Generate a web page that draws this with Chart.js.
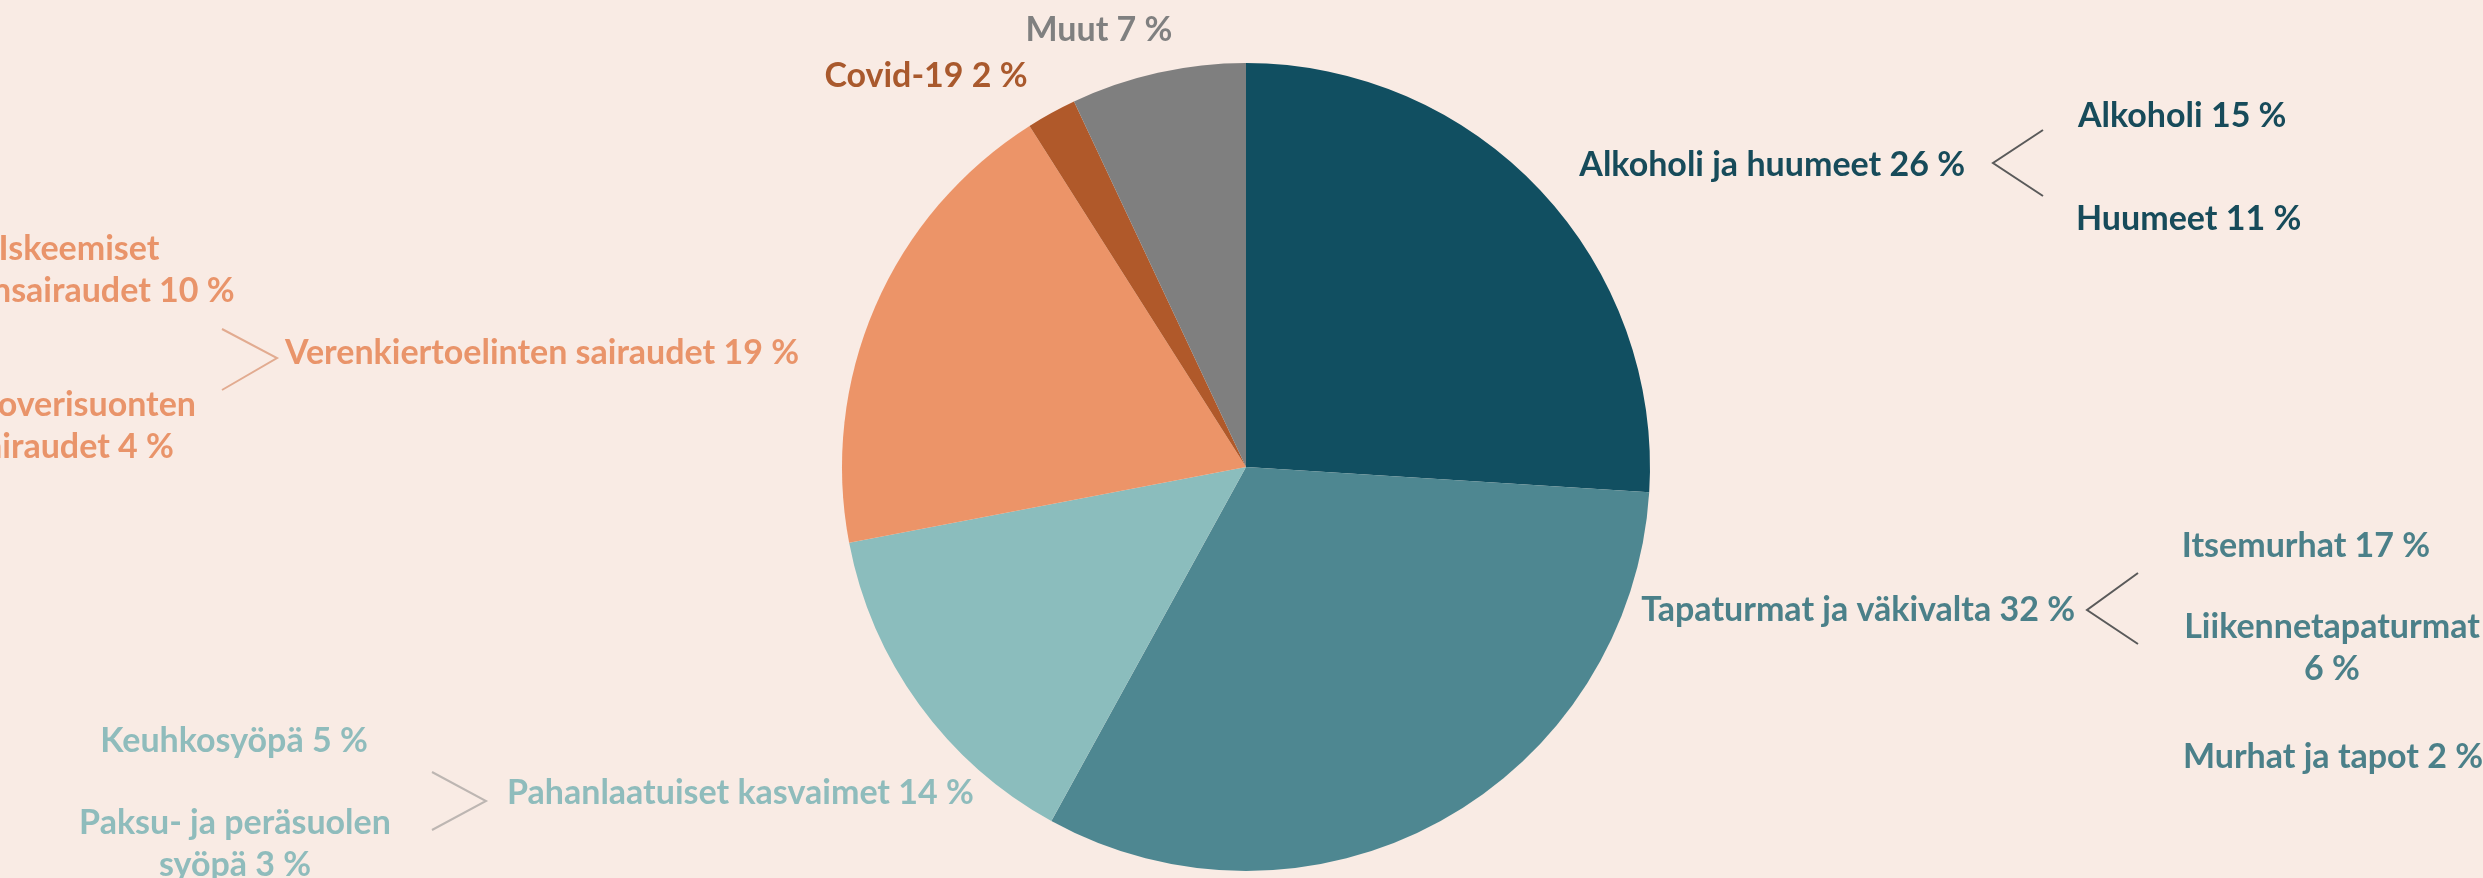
<!DOCTYPE html>
<html>
<head>
<meta charset="utf-8">
<script src="https://cdn.jsdelivr.net/npm/chart.js@4.4.1/dist/chart.umd.min.js"></script>
<style>
  html, body { margin: 0; padding: 0; background: #f9ebe4; overflow: hidden; }
  #wrap { width: 2483px; height: 878px; position: relative; }
</style>
</head>
<body>
<div id="wrap"><canvas id="pie"></canvas></div>
<script>
// main causes, clockwise from 12 o'clock
const categories = ['Alkoholi ja huumeet', 'Tapaturmat ja väkivalta', 'Pahanlaatuiset kasvaimet',
    'Verenkiertoelinten sairaudet', 'Covid-19', 'Muut'];
const shares = [26, 32, 14, 19, 2, 7];
const sliceColors = ['#114f61', '#4e8791', '#8bbdbd', '#ec9468', '#b0592a', '#7f7f7f'];
const textColors = ['#174b5a', '#4b8089', '#8fbcbc', '#e9946a', '#a9592d', '#808080'];

// breakdowns shown next to the bigger groups
const alcoholParts = ['Alkoholi', 'Huumeet'];
const alcoholShares = [15, 11];
const injuryParts = ['Itsemurhat', 'Liikennetapaturmat', 'Murhat ja tapot'];
const injuryShares = [17, 6, 2];
const cancerParts = ['Keuhkosyöpä', 'Paksu- ja peräsuolen syöpä'];
const cancerShares = [5, 3];
const circulatoryParts = ['Iskeemiset sydänsairaudet', 'Aivoverisuonten sairaudet'];
const circulatoryShares = [10, 4];

const FONT = 'bold 34px Lato, "Open Sans", sans-serif';
const LINE_H = 42;

const pct = (name, v) => name + ' ' + v + ' %';

// where each text goes (canvas px); brk = word count on the first line
const mainPos = [
    { x: 1965, y: 165, align: 'right' },
    { x: 2075, y: 610, align: 'right' },
    { x: 507, y: 793, align: 'left' },
    { x: 285, y: 353, align: 'left' },
    { x: 926, y: 76, align: 'center' },
    { x: 1099, y: 30, align: 'center' }
];
const subGroups = [
    { names: alcoholParts, values: alcoholShares, color: 0,
      pos: [{ x: 2078, y: 116, align: 'left' }, { x: 2076, y: 219, align: 'left' }],
      bracket: { tip: [1993, 163], a: [2043, 130], b: [2043, 196], color: '#5a5a5a' } },
    { names: injuryParts, values: injuryShares, color: 1,
      pos: [{ x: 2306, y: 546, align: 'center' }, { x: 2332, y: 627, align: 'center', brk: 1 },
            { x: 2333, y: 757, align: 'center' }],
      bracket: { tip: [2087, 610], a: [2138, 573], b: [2138, 644], color: '#5a5a5a' } },
    { names: cancerParts, values: cancerShares, color: 2,
      pos: [{ x: 234, y: 741, align: 'center' }, { x: 235, y: 823, align: 'center', brk: 3 }],
      bracket: { tip: [486, 801], a: [432, 772], b: [432, 830], color: '#bdb6b2' } },
    { names: circulatoryParts, values: circulatoryShares, color: 3,
      pos: [{ x: 79, y: 249, align: 'center', brk: 1 }, { x: 72, y: 405, align: 'center', brk: 1 }],
      bracket: { tip: [277, 358], a: [222, 329], b: [222, 390], color: '#e2ab90' } }
];

function drawText(ctx, text, p, color) {
    let lines = [text];
    if (p.brk) {
        const w = text.split(' ');
        lines = [w.slice(0, p.brk).join(' '), w.slice(p.brk).join(' ')];
    }
    ctx.fillStyle = color;
    ctx.textAlign = p.align;
    lines.forEach((l, i) => ctx.fillText(l, p.x, p.y + i * LINE_H));
}

const annotations = {
    id: 'annotations',
    afterDraw(chart) {
        const ctx = chart.ctx;
        ctx.save();
        ctx.font = FONT;
        ctx.textBaseline = 'middle';
        categories.forEach((c, i) => drawText(ctx, pct(c, shares[i]), mainPos[i], textColors[i]));
        subGroups.forEach(g => {
            g.names.forEach((n, i) => drawText(ctx, pct(n, g.values[i]), g.pos[i], textColors[g.color]));
            const b = g.bracket;
            ctx.beginPath();
            ctx.moveTo(b.a[0], b.a[1]);
            ctx.lineTo(b.tip[0], b.tip[1]);
            ctx.lineTo(b.b[0], b.b[1]);
            ctx.strokeStyle = b.color;
            ctx.lineWidth = 2;
            ctx.stroke();
        });
        ctx.restore();
    }
};

new Chart(document.getElementById('pie'), {
    type: 'pie',
    data: {
        labels: categories,
        datasets: [{
            data: shares,
            backgroundColor: sliceColors,
            borderWidth: 0,
            hoverBorderWidth: 0,
            hoverOffset: 0
        }]
    },
    options: {
        responsive: true,
        maintainAspectRatio: false,
        animation: false,
        events: [],
        layout: { padding: { top: 63, bottom: 7, left: 800, right: 791 } },
        plugins: {
            legend: { display: false },
            tooltip: { enabled: false }
        }
    },
    plugins: [annotations]
});
</script>
</body>
</html>
